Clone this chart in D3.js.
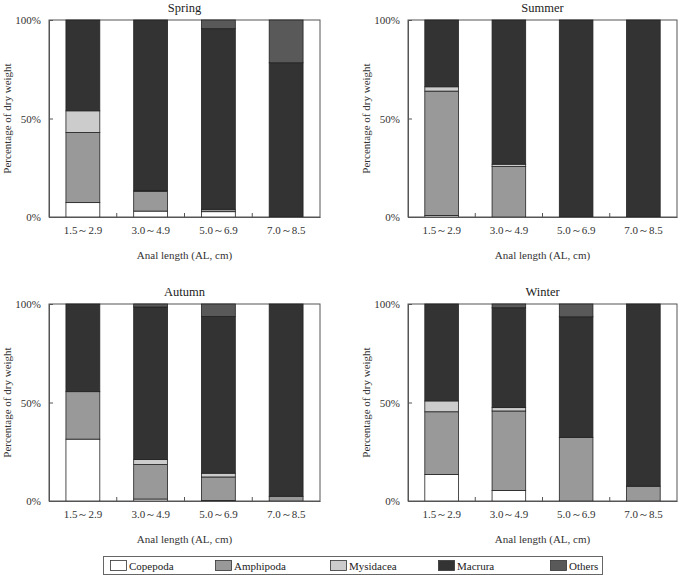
<!DOCTYPE html>
<html><head><meta charset="utf-8">
<script src="https://cdn.jsdelivr.net/npm/d3@7"></script>
<style>
body{margin:0;background:#fff;}
svg{display:block;}
svg text{font-family:"Liberation Serif","Times New Roman",serif;}
</style></head>
<body><svg id="c" width="685" height="575"></svg>
<script>
const categories = ["1.5～2.9","3.0～4.9","5.0～6.9","7.0～8.5"];
const seriesNames = ["Copepoda","Amphipoda","Mysidacea","Macrura","Others"];
const seriesColors = ["#ffffff","#999999","#cccccc","#333333","#595959"];
const yTicks = [0, 50, 100];
const yTickLabels = ["0%","50%","100%"];
const seasons = ["Spring","Summer","Autumn","Winter"];

// values per series (Copepoda, Amphipoda, Mysidacea, Macrura, Others), per size class
const spring = [
  [7.3, 3.0, 2.7, 0],
  [35.6, 10.0, 1.2, 0],
  [11.0, 0.5, 0, 0],
  [46.1, 86.5, 91.7, 78.3],
  [0, 0, 4.4, 21.7]
];
const summer = [
  [0.8, 0, 0, 0],
  [63.1, 25.6, 0, 0],
  [2.2, 1.2, 0, 0],
  [33.9, 73.2, 100, 100],
  [0, 0, 0, 0]
];
const autumn = [
  [31.4, 1.0, 0.3, 0],
  [24.1, 17.5, 11.9, 2.4],
  [0, 2.6, 1.9, 0],
  [44.5, 77.4, 79.6, 97.6],
  [0, 1.5, 6.3, 0]
];
const winter = [
  [13.4, 5.3, 0, 0],
  [31.9, 40.4, 32.3, 7.5],
  [5.5, 1.7, 0, 0],
  [49.2, 50.7, 61.2, 92.5],
  [0, 1.9, 6.5, 0]
];
const seasonData = [spring, summer, autumn, winter];

const FONT = "Liberation Serif, Times New Roman, serif";
const svg = d3.select("#c");
const panels = [
  {x0:49, x1:320, y0:20, y1:217},
  {x0:408, x1:677, y0:20, y1:217},
  {x0:49, x1:320, y0:304, y1:501},
  {x0:408, x1:677, y0:304, y1:501}
];

panels.forEach((p, si) => {
  const g = svg.append("g");
  const x = d3.scaleBand().domain(categories).range([p.x0, p.x1]).paddingInner(0.5).paddingOuter(0.25);
  const y = d3.scaleLinear().domain([0, 100]).range([p.y1, p.y0]);
  const vals = seasonData[si];
  const rows = categories.map((c, ci) => {
    const r = {cat: c};
    seriesNames.forEach((s, k) => r[s] = vals[k][ci]);
    return r;
  });
  const stack = d3.stack().keys(seriesNames)(rows);

  g.append("rect").attr("x", p.x0).attr("y", p.y0).attr("width", p.x1 - p.x0).attr("height", p.y1 - p.y0)
    .attr("fill", "#fff").attr("stroke", "#555").attr("stroke-width", 1);

  stack.forEach((layer, k) => {
    g.append("g").selectAll("rect").data(layer.filter(d => d[1] - d[0] > 0)).join("rect")
      .attr("x", d => x(d.data.cat))
      .attr("width", x.bandwidth())
      .attr("y", d => y(d[1]))
      .attr("height", d => y(d[0]) - y(d[1]))
      .attr("fill", seriesColors[k])
      .attr("stroke", "#222").attr("stroke-width", 0.8);
  });

  const ya = d3.axisLeft(y).tickValues(yTicks).tickFormat((d, i) => yTickLabels[i]).tickSizeInner(-4).tickSizeOuter(0).tickPadding(8);
  const yg = g.append("g").attr("transform", `translate(${p.x0},0)`).call(ya);
  yg.attr("font-family", FONT);
  yg.select(".domain").attr("stroke", "#555");
  yg.selectAll(".tick line").attr("stroke", "#555");
  yg.selectAll("text").attr("font-size", 11).attr("fill", "#333").attr("font-family", FONT);

  const xa = d3.axisBottom(x).tickSize(0).tickPadding(9);
  const xg = g.append("g").attr("transform", `translate(0,${p.y1})`).call(xa);
  xg.attr("font-family", FONT);
  xg.select(".domain").attr("stroke", "#555");
  xg.selectAll("text").attr("font-size", 11).attr("fill", "#333").attr("font-family", FONT);
  const step = x.step();
  g.append("g").selectAll("line").data(categories.slice(0, -1)).join("line")
    .attr("x1", d => x(d) + x.bandwidth() + (step - x.bandwidth()) / 2)
    .attr("x2", d => x(d) + x.bandwidth() + (step - x.bandwidth()) / 2)
    .attr("y1", p.y1).attr("y2", p.y1 - 4).attr("stroke", "#555");

  g.append("text").attr("x", (p.x0 + p.x1) / 2).attr("y", p.y0 - 8).attr("text-anchor", "middle")
    .attr("font-family", FONT).attr("font-size", 12.5).attr("fill", "#222").text(seasons[si]);
  g.append("text").attr("x", (p.x0 + p.x1) / 2).attr("y", p.y1 + 42).attr("text-anchor", "middle")
    .attr("font-family", FONT).attr("font-size", 11).attr("fill", "#333").text("Anal length (AL, cm)");
  g.append("text").attr("transform", `translate(${p.x0 - 38},${(p.y0 + p.y1) / 2}) rotate(-90)`)
    .attr("font-family", FONT).attr("text-anchor", "middle").attr("font-size", 11).attr("fill", "#333").text("Percentage of dry weight");
});

const lg = svg.append("g");
lg.append("rect").attr("x", 103.5).attr("y", 556.5).attr("width", 499).attr("height", 18)
  .attr("fill", "#fff").attr("stroke", "#666");
const legendX = [110, 215, 330, 438, 550];
seriesNames.forEach((s, k) => {
  lg.append("rect").attr("x", legendX[k] + 0.5).attr("y", 560.5).attr("width", 16).attr("height", 10)
    .attr("fill", seriesColors[k]).attr("stroke", "#333").attr("stroke-width", 0.8);
  lg.append("text").attr("x", legendX[k] + 19).attr("y", 569.5).attr("font-family", FONT)
    .attr("font-size", 11).attr("fill", "#222").text(s);
});
</script></body></html>
